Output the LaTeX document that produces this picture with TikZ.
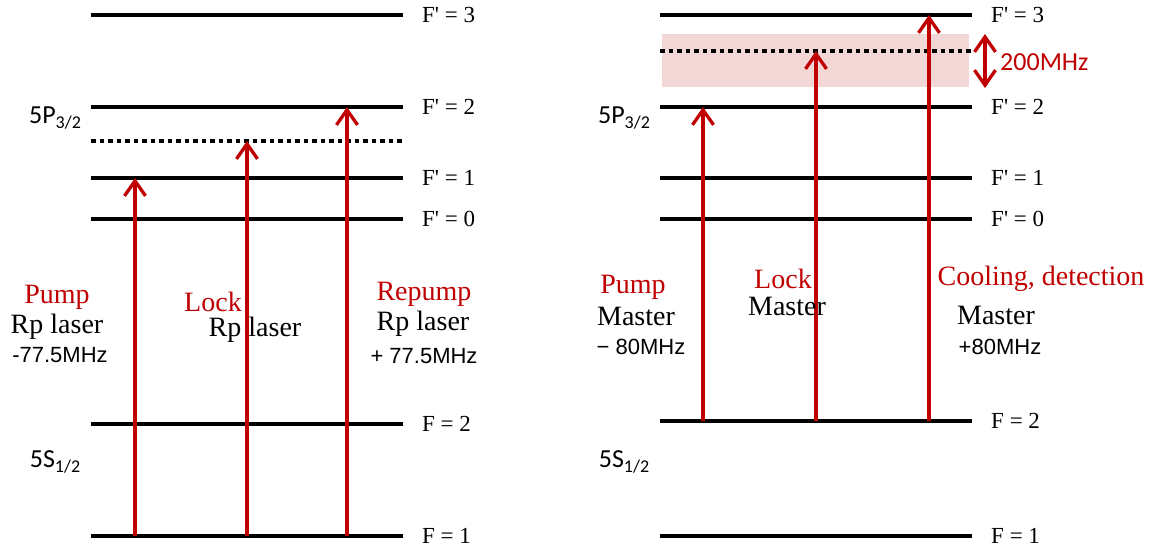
\documentclass[tikz,border=0pt]{standalone}
\usepackage{fontspec}
\setmainfont{Liberation Serif}
\newfontfamily\calibf{Carlito}
\newfontfamily\arialf{Liberation Sans}
\usetikzlibrary{arrows.meta}
\definecolor{dred}{RGB}{192,0,0}
\definecolor{pinkbg}{RGB}{243,215,215}
\begin{document}
\begin{tikzpicture}[x=1pt,y=-1pt,
  lvl/.style={line width=3.3pt},
  virt/.style={line width=3.3pt,dash pattern=on 4.5pt off 4pt},
  beam/.style={draw=dred,line width=3.3pt,-{Straight Barb[length=15pt,width=21pt,line width=3.3pt]}},
  dbeam/.style={draw=dred,line width=3.3pt,{Straight Barb[length=15pt,width=21pt,line width=3.3pt]}-{Straight Barb[length=15pt,width=21pt,line width=3.3pt]}},
  lvllab/.style={anchor=west,inner sep=0pt,font=\fontsize{23}{23}\selectfont},
  redlab/.style={inner sep=0pt,text=dred,font=\fontsize{28}{28}\selectfont},
  blklab/.style={inner sep=0pt,font=\fontsize{28}{28}\selectfont},
  frqlab/.style={inner sep=0pt,font=\arialf\fontsize{22}{22}\selectfont},
  statelab/.style={inner sep=0pt,font=\calibf\fontsize{26}{26}\selectfont}]
\useasboundingbox (0,0) rectangle (1158,552);

% ---------------- left diagram ----------------
\coordinate (a3w) at (91,15);   \coordinate (a3e) at (403,15);
\coordinate (a2w) at (91,107);  \coordinate (a2e) at (403,107);
\coordinate (avw) at (91,141);  \coordinate (ave) at (403,141);
\coordinate (a1w) at (91,178);  \coordinate (a1e) at (403,178);
\coordinate (a0w) at (91,219);  \coordinate (a0e) at (403,219);
\coordinate (ag2w) at (91,424); \coordinate (ag2e) at (403,424);
\coordinate (ag1w) at (91,536); \coordinate (ag1e) at (403,536);
\draw[lvl] (a3w) -- (a3e);
\draw[lvl] (a2w) -- (a2e);
\draw[virt] (avw) -- (ave);
\draw[lvl] (a1w) -- (a1e);
\draw[lvl] (a0w) -- (a0e);
\draw[lvl] (ag2w) -- (ag2e);
\draw[lvl] (ag1w) -- (ag1e);
\node[lvllab] (la3) at (422,15) {F\textquotesingle{} = 3};
\node[lvllab] (la2) at (422,107) {F\textquotesingle{} = 2};
\node[lvllab] (la1) at (422,178) {F\textquotesingle{} = 1};
\node[lvllab] (la0) at (422,219) {F\textquotesingle{} = 0};
\node[lvllab] (lag2) at (422,424) {F = 2};
\node[lvllab] (lag1) at (422,536) {F = 1};
\node[statelab] (aP) at (55,118) {5P\raisebox{-0.35ex}{\fontsize{18}{18}\selectfont 3/2}};
\node[statelab] (aS) at (55,462) {5S\raisebox{-0.35ex}{\fontsize{18}{18}\selectfont 1/2}};

\coordinate (apS) at (135,536); \coordinate (apT) at (135,178);
\coordinate (alS) at (247,536); \coordinate (alT) at (247,141);
\coordinate (arS) at (347,536); \coordinate (arT) at (347,107);
\draw[beam] (apS) -- (apT);
\draw[beam] (alS) -- (alT);
\draw[beam] (arS) -- (arT);

\node[redlab] (apn) at (57,297) {Pump};
\node[blklab] (apl) at (57,327) {Rp laser};
\node[frqlab] (apf) at (60,355) {-77.5MHz};
\node[redlab] (aln) at (213,302) {Lock};
\node[blklab] (all) at (255,330) {Rp laser};
\node[redlab] (arn) at (424,294) {Repump};
\node[blklab] (arl) at (423,324) {Rp laser};
\node[frqlab] (arf) at (424,356) {+ 77.5MHz};

% ---------------- right diagram ----------------
\fill[pinkbg] (662,34) rectangle (969,87);
\coordinate (b3w) at (660,15);   \coordinate (b3e) at (972,15);
\coordinate (bvw) at (660,51);   \coordinate (bve) at (972,51);
\coordinate (b2w) at (660,107);  \coordinate (b2e) at (972,107);
\coordinate (b1w) at (660,178);  \coordinate (b1e) at (972,178);
\coordinate (b0w) at (660,219);  \coordinate (b0e) at (972,219);
\coordinate (bg2w) at (660,421); \coordinate (bg2e) at (972,421);
\coordinate (bg1w) at (660,536); \coordinate (bg1e) at (972,536);
\draw[lvl] (b3w) -- (b3e);
\draw[virt] (bvw) -- (bve);
\draw[lvl] (b2w) -- (b2e);
\draw[lvl] (b1w) -- (b1e);
\draw[lvl] (b0w) -- (b0e);
\draw[lvl] (bg2w) -- (bg2e);
\draw[lvl] (bg1w) -- (bg1e);
\node[lvllab] (lb3) at (991,15) {F\textquotesingle{} = 3};
\node[lvllab] (lb2) at (991,107) {F\textquotesingle{} = 2};
\node[lvllab] (lb1) at (991,178) {F\textquotesingle{} = 1};
\node[lvllab] (lb0) at (991,219) {F\textquotesingle{} = 0};
\node[lvllab] (lbg2) at (991,421) {F = 2};
\node[lvllab] (lbg1) at (991,536) {F = 1};
\node[statelab] (bP) at (624,118) {5P\raisebox{-0.35ex}{\fontsize{18}{18}\selectfont 3/2}};
\node[statelab] (bS) at (624,462) {5S\raisebox{-0.35ex}{\fontsize{18}{18}\selectfont 1/2}};

\coordinate (dTop) at (985,34); \coordinate (dBot) at (985,88);
\draw[dbeam] (dTop) -- (dBot);
\node[inner sep=0pt,anchor=west,text=dred,font=\calibf\fontsize{26}{26}\selectfont] (bw) at (1000,62) {200MHz};

\coordinate (bpS) at (703,421); \coordinate (bpT) at (703,107);
\coordinate (blS) at (816,421); \coordinate (blT) at (816,51);
\coordinate (bcS) at (929,421); \coordinate (bcT) at (929,15);
\draw[beam] (bpS) -- (bpT);
\draw[beam] (blS) -- (blT);
\draw[beam] (bcS) -- (bcT);

\node[redlab] (bpn) at (633,287) {Pump};
\node[blklab] (bpl) at (636,316) {Master};
\node[frqlab] (bpf) at (641,347) {\symbol{"2212} 80MHz};
\node[redlab] (bln) at (783,279) {Lock};
\node[blklab] (bll) at (787,306) {Master};
\node[redlab] (bcn) at (1041,279) {Cooling, detection};
\node[blklab] (bcl) at (996,315) {Master};
\node[frqlab] (bcf) at (1000,347) {+80MHz};
\end{tikzpicture}
\end{document}
